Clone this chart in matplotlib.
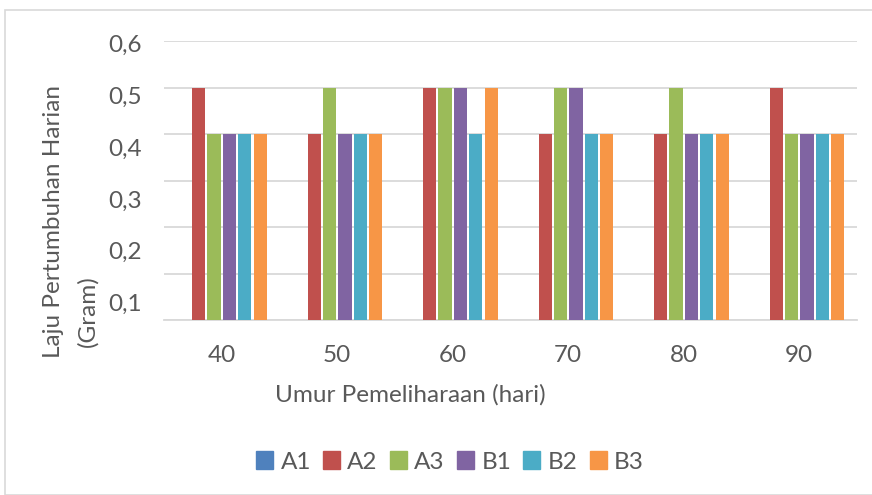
import numpy as np
import matplotlib.pyplot as plt
from matplotlib.patches import Rectangle, Patch

plt.rcParams["font.family"] = ["Lato", "DejaVu Sans"]

umur = ["40", "50", "60", "70", "80", "90"]
A1 = [0, 0, 0, 0, 0, 0]
A2 = [0.5, 0.4, 0.5, 0.4, 0.4, 0.5]
A3 = [0.4, 0.5, 0.5, 0.5, 0.5, 0.4]
B1 = [0.4, 0.4, 0.5, 0.5, 0.4, 0.4]
B2 = [0.4, 0.4, 0.4, 0.4, 0.4, 0.4]
B3 = [0.4, 0.4, 0.5, 0.4, 0.4, 0.4]
series = ["A1", "A2", "A3", "B1", "B2", "B3"]
colors = ["#4F81BD", "#C0504D", "#9BBB59", "#8064A2", "#4BACC6", "#F79646"]
yticks = [0.1, 0.2, 0.3, 0.4, 0.5, 0.6]
ylabels = ["0,1", "0,2", "0,3", "0,4", "0,5", "0,6"]

W, H = 872, 495
fs = 17.5
grey = "#595959"
fig = plt.figure(figsize=(W / 100, H / 100), dpi=100)
fig.patches.append(Rectangle((5 / W, 0), 1, 1 - 10 / H, transform=fig.transFigure,
                             fill=False, edgecolor="#D9D9D9", lw=1.2))

ax = fig.add_axes([164 / W, 1 - 320 / H, (857 - 164) / W, (320 - 41) / H])
x = np.arange(len(umur)) + 0.5
step = 0.134
width = 0.113
for i, (vals, c) in enumerate(zip([A1, A2, A3, B1, B2, B3], colors)):
    ax.bar(x + (i - 2.5) * step, vals, width, color=c, zorder=3)

ax.set_xlim(0, 6)
ax.set_ylim(0, 0.6)
ax.set_yticks([0] + yticks)
ax.set_yticklabels([])
ax.grid(axis="y", color="#D9D9D9", lw=1.3, zorder=0)
# tick labels sit a little off the gridlines, as in the original
ax.set_yticks([0.595 - (0.6 - v) * 1.115 for v in yticks], minor=True)
ax.set_yticklabels(ylabels, minor=True)
ax.tick_params(axis="y", which="both", length=0, pad=16, labelsize=fs, labelcolor=grey)
ax.set_xticks(x)
ax.set_xticklabels(umur)
ax.tick_params(axis="x", length=0, pad=18, labelsize=fs, labelcolor=grey)
for s in ["top", "right", "left"]:
    ax.spines[s].set_visible(False)
ax.spines["bottom"].set_color("#D9D9D9")
ax.spines["bottom"].set_linewidth(1.3)

fig.text(410 / W, 1 - 395 / H, "Umur Pemeliharaan (hari)", ha="center", va="center",
         fontsize=fs, color=grey)
fig.text(53 / W, 1 - 222 / H, "Laju Pertumbuhan Harian", rotation=90, ha="center",
         va="center", fontsize=fs, color=grey)
fig.text(88 / W, 1 - 347 / H, "(Gram)", rotation=90, ha="center", va="bottom",
         fontsize=fs, color=grey)

handles = [Patch(color=c, label=s) for s, c in zip(series, colors)]
fig.legend(handles=handles, loc="center", bbox_to_anchor=(450 / W, 1 - 462 / H), ncol=6,
           frameon=False, fontsize=fs, labelcolor=grey, handlelength=0.7,
           handleheight=0.7, handletextpad=0.3, columnspacing=0.5)

fig.savefig("out.png", dpi=100)
